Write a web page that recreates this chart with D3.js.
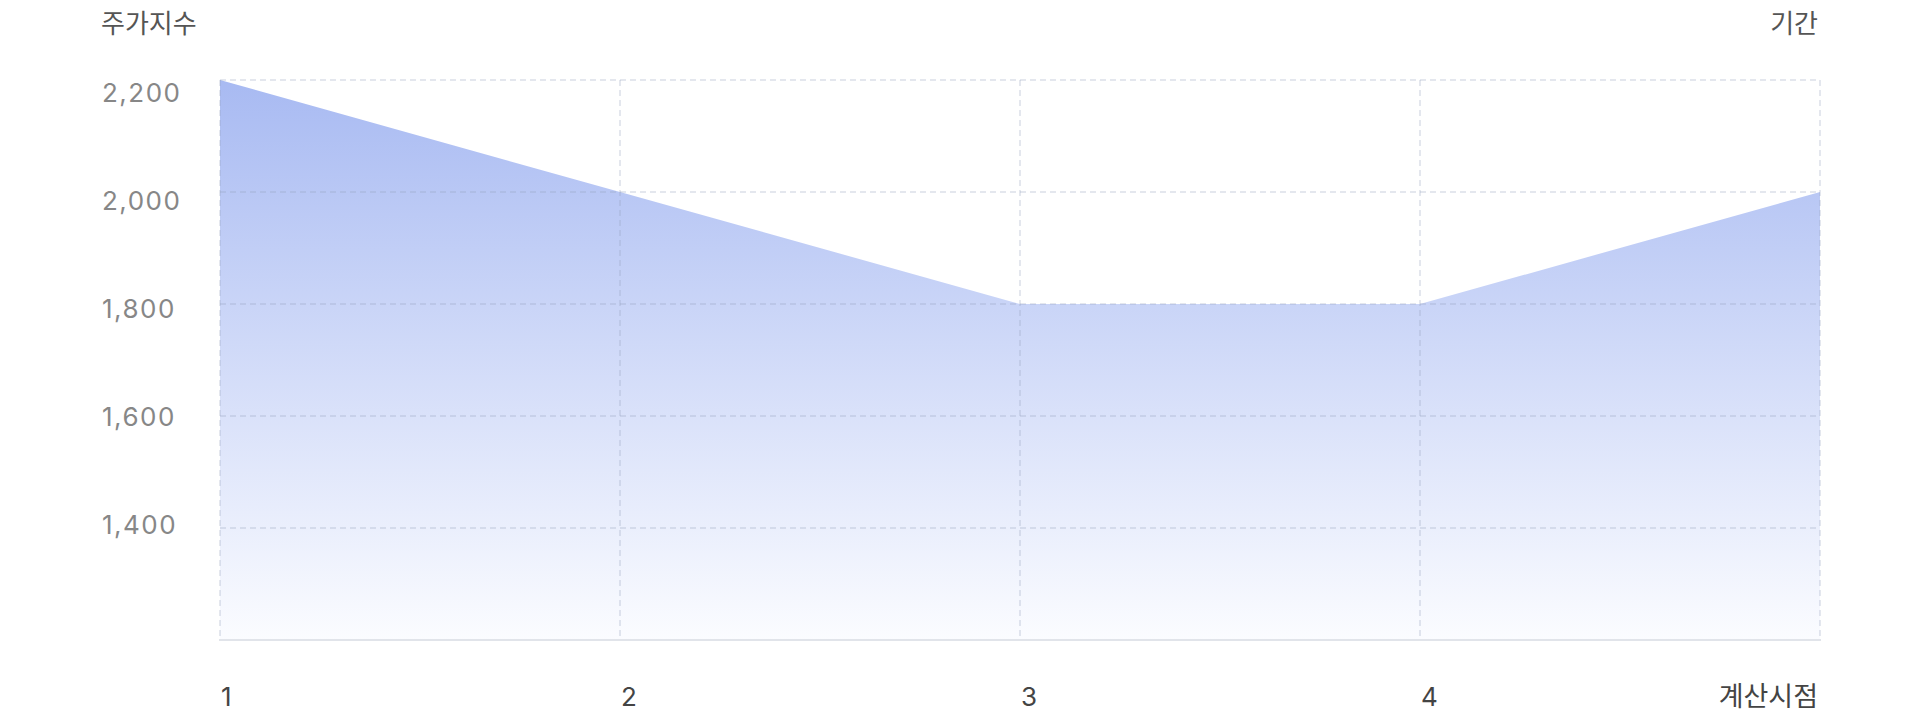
<!DOCTYPE html>
<html>
<head>
<meta charset="utf-8">
<script src="https://cdn.jsdelivr.net/npm/d3@7"></script>
<style>
  body { margin:0; background:#fff; }
  svg text { font-family: Inter, "Noto Sans CJK KR", sans-serif; }
</style>
</head>
<body>
<div id="chart"></div>
<script>
// data
var periods = [1, 2, 3, 4, 5];
var periodLabels = ["1", "2", "3", "4", "계산시점"];
var values = [2200, 2000, 1800, 1800, 2000];
var yTicks = [2200, 2000, 1800, 1600, 1400];
var yTitle = "주가지수";
var xTitle = "기간";

var width = 1920, height = 720;
var marge = {top:80, bottom:80, left:220, right:100};

var svg = d3.select("#chart").append("svg")
    .attr("width", width)
    .attr("height", height);

var x = d3.scaleLinear().domain([1, 5]).range([marge.left, width - marge.right]);
var y = d3.scaleLinear().domain([1200, 2200]).range([height - marge.bottom, marge.top]);
// tick labels are spread slightly tighter than the grid
var yLab = d3.scaleLinear().domain([2200, 1400]).range([93, 525]);

var defs = svg.append("defs");
var grad = defs.append("linearGradient")
    .attr("id", "areaGrad")
    .attr("gradientUnits", "userSpaceOnUse")
    .attr("x1", 0).attr("y1", y(2200))
    .attr("x2", 0).attr("y2", y(1200));
grad.append("stop").attr("offset", "0%").attr("stop-color", "rgb(168,186,242)");
grad.append("stop").attr("offset", "100%").attr("stop-color", "rgb(251,252,255)");

// area
var area = d3.area()
    .x(function(d, i){ return x(periods[i]); })
    .y0(y(1200))
    .y1(function(d){ return y(d); });

svg.append("path")
    .datum(values)
    .attr("d", area)
    .attr("fill", "url(#areaGrad)");

// grid
var grid = svg.append("g");
grid.selectAll(".hline")
    .data(yTicks)
    .enter()
    .append("line")
    .attr("x1", x(1)).attr("x2", x(5))
    .attr("y1", function(d){ return y(d); })
    .attr("y2", function(d){ return y(d); })
    .attr("stroke", "rgba(150,162,188,0.33)")
    .attr("stroke-width", 1.5)
    .attr("stroke-dasharray", "6,4");

grid.selectAll(".vline")
    .data(periods)
    .enter()
    .append("line")
    .attr("x1", function(d){ return x(d); })
    .attr("x2", function(d){ return x(d); })
    .attr("y1", y(2200)).attr("y2", y(1200))
    .attr("stroke", "rgba(150,162,188,0.33)")
    .attr("stroke-width", 1.5)
    .attr("stroke-dasharray", "6,4");

// bottom axis line
svg.append("line")
    .attr("x1", x(1) - 1).attr("x2", x(5) + 1)
    .attr("y1", y(1200)).attr("y2", y(1200))
    .attr("stroke", "#e1e4ea")
    .attr("stroke-width", 2);

// y tick labels
svg.selectAll(".ylab")
    .data(yTicks)
    .enter()
    .append("text")
    .attr("x", 102)
    .attr("y", function(d){ return yLab(d); })
    .attr("dy", "0.35em")
    .attr("font-size", 26)
    .attr("letter-spacing", 1.5)
    .attr("fill", "#878787")
    .text(function(d){ return d3.format(",")(d); });

// x tick labels
svg.selectAll(".xlab")
    .data(periods)
    .enter()
    .append("text")
    .attr("x", function(d, i){ return i == periods.length - 1 ? x(d) - 2 : x(d) + 1; })
    .attr("y", 706)
    .attr("text-anchor", function(d, i){ return i == periods.length - 1 ? "end" : "start"; })
    .attr("font-size", function(d, i){ return i == periods.length - 1 ? 27 : 26; })
    .attr("fill", "#444")
    .text(function(d, i){ return periodLabels[i]; });

// titles
svg.append("text")
    .attr("x", 101).attr("y", 33)
    .attr("font-size", 26)
    .attr("fill", "#555")
    .text(yTitle);

svg.append("text")
    .attr("x", 1818).attr("y", 33)
    .attr("text-anchor", "end")
    .attr("font-size", 26)
    .attr("fill", "#555")
    .text(xTitle);
</script>
</body>
</html>
